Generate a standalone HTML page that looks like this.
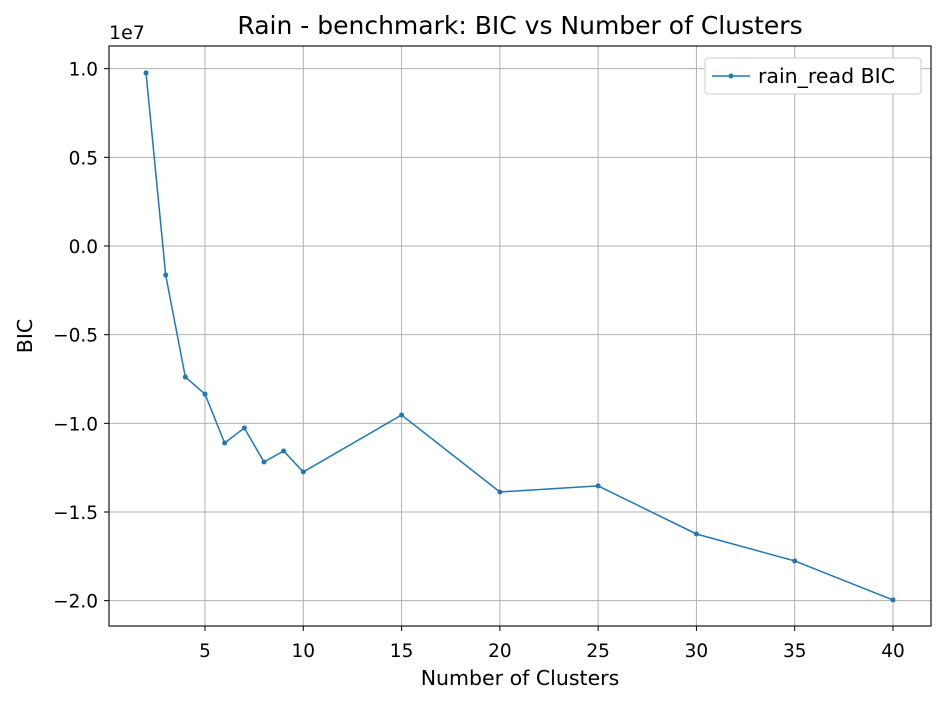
<!DOCTYPE html>
<html><head><meta charset="utf-8"><style>
body{margin:0;background:#fff;}
text{font-family:"DejaVu Sans","Liberation Sans",sans-serif;fill:#000;}
</style></head><body>
<svg id="chart" width="948" height="704" xmlns="http://www.w3.org/2000/svg">
<rect width="948" height="704" fill="#fff"/>
<g id="grid"></g>
<g id="xticks"></g>
<g id="yticks"></g>
<g id="series"></g>
<rect x="109" y="46" width="822" height="580" fill="none" stroke="#000" stroke-width="1.1"/>
<text x="520" y="34" font-size="25" text-anchor="middle">Rain - benchmark: BIC vs Number of Clusters</text>
<text x="520" y="685" font-size="20.5" text-anchor="middle">Number of Clusters</text>
<text transform="translate(32,336) rotate(-90)" font-size="20.5" text-anchor="middle">BIC</text>
<text x="109" y="39" font-size="19">1e7</text>
<g>
<rect x="705" y="58" width="216" height="36" rx="3" fill="#fff" stroke="#ccc" stroke-width="1"/>
<line x1="712" y1="76" x2="750" y2="76" stroke="#1f77b4" stroke-width="1.5"/>
<circle cx="731" cy="76" r="2.5" fill="#1f77b4"/>
<text x="758" y="83" font-size="20.5">rain_read BIC</text>
</g>
</svg>
<script>
const clusters=[2,3,4,5,6,7,8,9,10,15,20,25,30,35,40];
const bicValues=[0.976,-0.1635,-0.739,-0.835,-1.111,-1.026,-1.218,-1.156,-1.274,-0.953,-1.387,-1.353,-1.624,-1.776,-1.996];
const xTickValues=[5,10,15,20,25,30,35,40];
const yTickValues=[1.0,0.5,0.0,-0.5,-1.0,-1.5,-2.0];
const yTickLabels=["1.0","0.5","0.0","\u22120.5","\u22121.0","\u22121.5","\u22122.0"];
const NS="http://www.w3.org/2000/svg";
function xs(v){return 205+(v-5)*(893-205)/35;}
function ys(v){return 246-v*177.33;}
function mk(t,a,p){const e=document.createElementNS(NS,t);for(const k in a)e.setAttribute(k,a[k]);p.appendChild(e);return e;}
const grid=document.getElementById('grid'),gx=document.getElementById('xticks'),gy=document.getElementById('yticks'),gs=document.getElementById('series');
xTickValues.forEach(v=>{const x=xs(v);
const g=mk('line',{x1:x,x2:x,y1:46,y2:626,stroke:'#b0b0b0','stroke-width':1},grid);


mk('line',{x1:x,x2:x,y1:626,y2:631,stroke:'#000'},gx);
const t=mk('text',{x:x,y:657,'font-size':18.5,'text-anchor':'middle'},gx);t.textContent=v;

});
yTickValues.forEach((v,i)=>{const y=ys(v);
const g=mk('line',{x1:109,x2:931,y1:y,y2:y,stroke:'#b0b0b0','stroke-width':1},grid);


mk('line',{x1:104,x2:109,y1:y,y2:y,stroke:'#000'},gy);
const t=mk('text',{x:98,y:y+7,'font-size':18.5,'text-anchor':'end'},gy);t.textContent=yTickLabels[i];

});
const pts=clusters.map((c,i)=>xs(c)+','+ys(bicValues[i])).join(' ');
const pl=mk('polyline',{points:pts,fill:'none',stroke:'#1f77b4','stroke-width':1.5},gs);


clusters.forEach((c,i)=>{const p=mk('circle',{cx:xs(c),cy:ys(bicValues[i]),r:2.5,fill:'#1f77b4'},gs);

});
</script>
</body></html>
